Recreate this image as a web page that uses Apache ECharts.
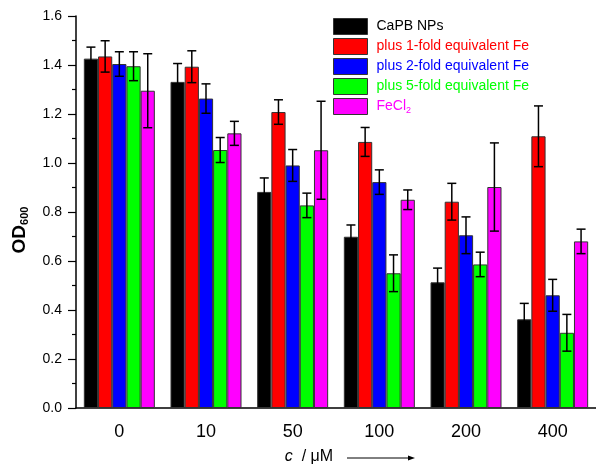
<!DOCTYPE html>
<html>
<head>
<meta charset="utf-8">
<script src="https://cdn.jsdelivr.net/npm/echarts@6/dist/echarts.min.js"></script>
<style>
	html, body { margin: 0; padding: 0; background: #fff; }
	#chart { width: 596px; height: 471px; }
</style>
</head>
<body>
<div id="chart"></div>
<script>
	// 浓度分组
	var concentrations = ['0', '10', '50', '100', '200', '400'];
	var seriesNames = ['CaPB NPs', 'plus 1-fold equivalent Fe', 'plus 2-fold equivalent Fe', 'plus 5-fold equivalent Fe', 'FeCl2'];
	var seriesColors = ['#000000', '#ff0000', '#0000ff', '#00ff00', '#ff00ff'];

	// OD600 均值
	var capbValues = [1.426, 1.331, 0.882, 0.699, 0.513, 0.362];
	var fe1Values = [1.435, 1.393, 1.208, 1.086, 0.842, 1.109];
	var fe2Values = [1.404, 1.263, 0.990, 0.922, 0.705, 0.460];
	var fe5Values = [1.395, 1.053, 0.827, 0.550, 0.586, 0.307];
	var fecl2Values = [1.295, 1.121, 1.052, 0.850, 0.902, 0.680];

	// 误差
	var capbErrors = [0.047, 0.075, 0.057, 0.048, 0.058, 0.065];
	var fe1Errors = [0.064, 0.065, 0.050, 0.059, 0.075, 0.124];
	var fe2Errors = [0.050, 0.060, 0.065, 0.050, 0.075, 0.065];
	var fe5Errors = [0.059, 0.051, 0.050, 0.075, 0.050, 0.075];
	var fecl2Errors = [0.151, 0.049, 0.200, 0.040, 0.180, 0.050];

	var allValues = [capbValues, fe1Values, fe2Values, fe5Values, fecl2Values];
	var allErrors = [capbErrors, fe1Errors, fe2Errors, fe5Errors, fecl2Errors];

	var BAR_W = 14.2;
	var FONT = 'Liberation Sans, Arial, sans-serif';

	//误差棒
	function errorSeries(idx) {
		var data = [];
		for (var i = 0; i < concentrations.length; i++) {
			data.push([i, allValues[idx][i], allErrors[idx][i]]);
		}
		return {
			type: 'custom',
			name: 'err' + idx,
			z: 10,
			silent: true,
			encode: { x: 0, y: 1 },
			data: data,
			renderItem: function(params, api) {
				var cat = api.value(0), v = api.value(1), e = api.value(2);
				var x = api.coord([cat, v])[0] + (idx - 2) * BAR_W;
				var top = api.coord([cat, v + e])[1];
				var bot = api.coord([cat, v - e])[1];
				var hw = 4.5;
				var st = { stroke: '#000', lineWidth: 1.5 };
				return {
					type: 'group',
					children: [
						{ type: 'line', shape: { x1: x, y1: top, x2: x, y2: bot }, style: st },
						{ type: 'line', shape: { x1: x - hw, y1: top, x2: x + hw, y2: top }, style: st },
						{ type: 'line', shape: { x1: x - hw, y1: bot, x2: x + hw, y2: bot }, style: st }
					]
				};
			}
		};
	}

	var series = [];
	for (var s = 0; s < seriesNames.length; s++) {
		series.push({
			type: 'bar',
			name: seriesNames[s],
			data: allValues[s],
			barWidth: BAR_W,
			barGap: '0%',
			itemStyle: {
				color: seriesColors[s],
				borderColor: '#333',
				borderWidth: 1
			}
		});
	}
	for (var k = 0; k < seriesNames.length; k++) {
		series.push(errorSeries(k));
	}

	var legendData = [];
	for (var j = 0; j < seriesNames.length; j++) {
		legendData.push({ name: seriesNames[j], textStyle: { color: seriesColors[j] } });
	}

	var option = {
		animation: false,
		backgroundColor: '#fff',
		textStyle: { fontFamily: FONT },
		grid: { left: 76, top: 16, width: 524, bottom: 63 },
		legend: {
			orient: 'vertical',
			left: 333,
			top: 18,
			padding: 0,
			itemWidth: 34,
			itemHeight: 16,
			itemGap: 3,
			icon: 'rect',
			selectedMode: false,
			data: legendData,
			itemStyle: { borderColor: '#333', borderWidth: 1 },
			textStyle: {
				fontSize: 14,
				fontFamily: FONT,
				padding: [0, 0, 0, 4],
				rich: {
					n: { fontSize: 14, fontFamily: FONT, color: '#ff00ff' },
					s: { fontSize: 9, fontFamily: FONT, color: '#ff00ff', padding: [8, 0, 0, 0] }
				}
			},
			formatter: function(name) {
				return name === 'FeCl2' ? '{n|FeCl}{s|2}' : name;
			}
		},
		xAxis: {
			type: 'category',
			data: concentrations,
			name: '{i|c}  / μM',
			nameLocation: 'middle',
			nameGap: 41,
			nameTextStyle: {
				fontSize: 16,
				color: '#000',
				fontFamily: FONT,
				padding: [0, 54, 0, 0],
				rich: { i: { fontSize: 16, fontStyle: 'italic', color: '#000', fontFamily: FONT } }
			},
			axisLine: { lineStyle: { color: '#000', width: 1.5 } },
			axisTick: { show: false },
			axisLabel: { fontSize: 18, color: '#000', margin: 15 }
		},
		yAxis: {
			type: 'value',
			min: 0,
			max: 1.6,
			interval: 0.2,
			name: '{b|OD}{s|600}',
			nameLocation: 'middle',
			nameRotate: 90,
			nameGap: 46,
			nameTextStyle: {
				padding: [0, 36, 0, 0],
				rich: {
					b: { fontSize: 19, fontWeight: 'bold', color: '#000', fontFamily: FONT },
					s: { fontSize: 11, fontWeight: 'bold', color: '#000', fontFamily: FONT, padding: [9, 0, 0, 0] }
				}
			},
			axisLine: { show: true, lineStyle: { color: '#000', width: 1.5 } },
			axisTick: { show: true, length: 8, lineStyle: { color: '#000', width: 1.2 } },
			minorTick: { show: true, splitNumber: 2, length: 4, lineStyle: { color: '#000', width: 1.2 } },
			splitLine: { show: false },
			axisLabel: {
				fontSize: 14,
				color: '#000',
				margin: 14,
				formatter: function(v) { return v.toFixed(1); }
			}
		},
		graphic: [
			{ type: 'line', shape: { x1: 347, y1: 458, x2: 409, y2: 458 }, style: { stroke: '#000', lineWidth: 1 } },
			{ type: 'polygon', shape: { points: [[408, 455.5], [415, 458], [408, 460.5]] }, style: { fill: '#000' } }
		],
		series: series
	};

	echarts.init(document.getElementById('chart')).setOption(option);
</script>
</body>
</html>
